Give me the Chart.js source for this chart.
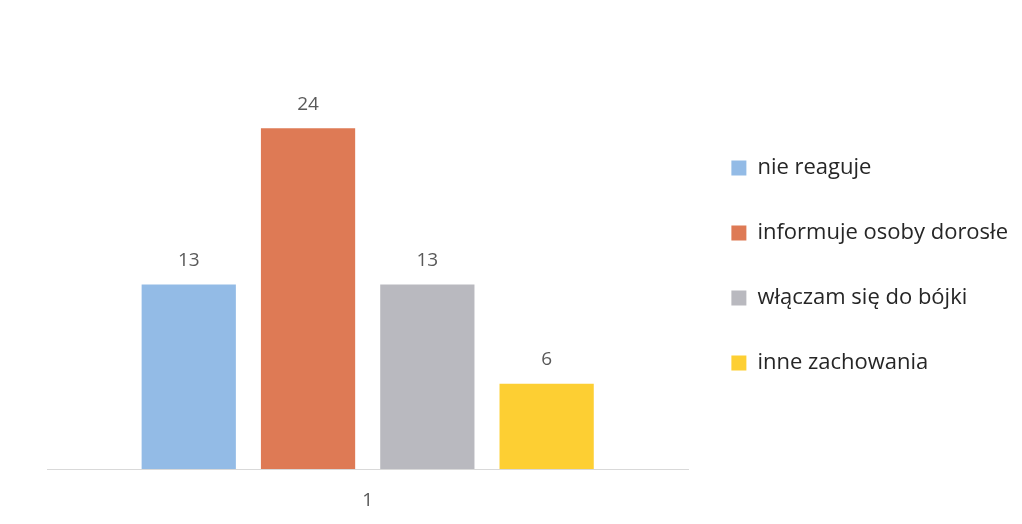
<!DOCTYPE html>
<html>
<head>
<meta charset="utf-8">
<script src="https://cdn.jsdelivr.net/npm/chart.js@4"></script>
<style>
  html, body { margin: 0; padding: 0; background: #fff; }
  #wrap { width: 1022px; height: 524px; }
</style>
</head>
<body>
<div id="wrap"><canvas id="wykres"></canvas></div>
<script>
// dane z wykresu
var kategorie = ["1"];
var serie = ["nie reaguje", "informuje osoby dorosłe", "włączam się do bójki", "inne zachowania"];
var wartosci = [13, 24, 13, 6];
var kolory = ["#93bbe6", "#de7a55", "#b9b9bf", "#fdcf33"];

// etykiety wartosci nad slupkami
var etykiety = {
  id: 'etykiety',
  afterDatasetsDraw: function(chart){
    var ctx = chart.ctx;
    ctx.save();
    ctx.font = '19px "Open Sans"';
    ctx.fillStyle = '#595959';
    ctx.textAlign = 'center';
    ctx.textBaseline = 'middle';
    chart.data.datasets.forEach(function(ds, i){
      chart.getDatasetMeta(i).data.forEach(function(bar, j){
        ctx.fillText(ds.data[j], bar.x, bar.y - 24);
      });
    });
    ctx.restore();
  }
};

var zestawy = serie.map(function(nazwa, i){
  return {
    label: nazwa,
    data: [wartosci[i]],
    backgroundColor: kolory[i],
    borderWidth: 0
  };
});

new Chart(document.getElementById("wykres"), {
  type: 'bar',
  data: {
    labels: kategorie,
    datasets: zestawy
  },
  options: {
    responsive: true,
    maintainAspectRatio: false,
    animation: false,
    categoryPercentage: 0.744,
    barPercentage: 0.79,
    layout: { padding: { top: 114, left: 47, right: 4, bottom: 0 } },
    plugins: {
      legend: {
        position: 'right',
        align: 'start',
        labels: {
          boxWidth: 15,
          boxHeight: 15,
          padding: 43,
          color: '#262626',
          font: { family: 'Open Sans', size: 22 }
        }
      },
      tooltip: { enabled: false }
    },
    scales: {
      x: {
        grid: { display: false, drawTicks: false },
        border: { display: true, color: '#d9d9d9', width: 1 },
        ticks: { color: '#595959', padding: 20, font: { family: 'Open Sans', size: 19 } },
        afterFit: function(skala){ skala.height = 55; }
      },
      y: {
        display: false,
        min: 0,
        max: 25
      }
    }
  },
  plugins: [etykiety]
});
</script>
</body>
</html>
